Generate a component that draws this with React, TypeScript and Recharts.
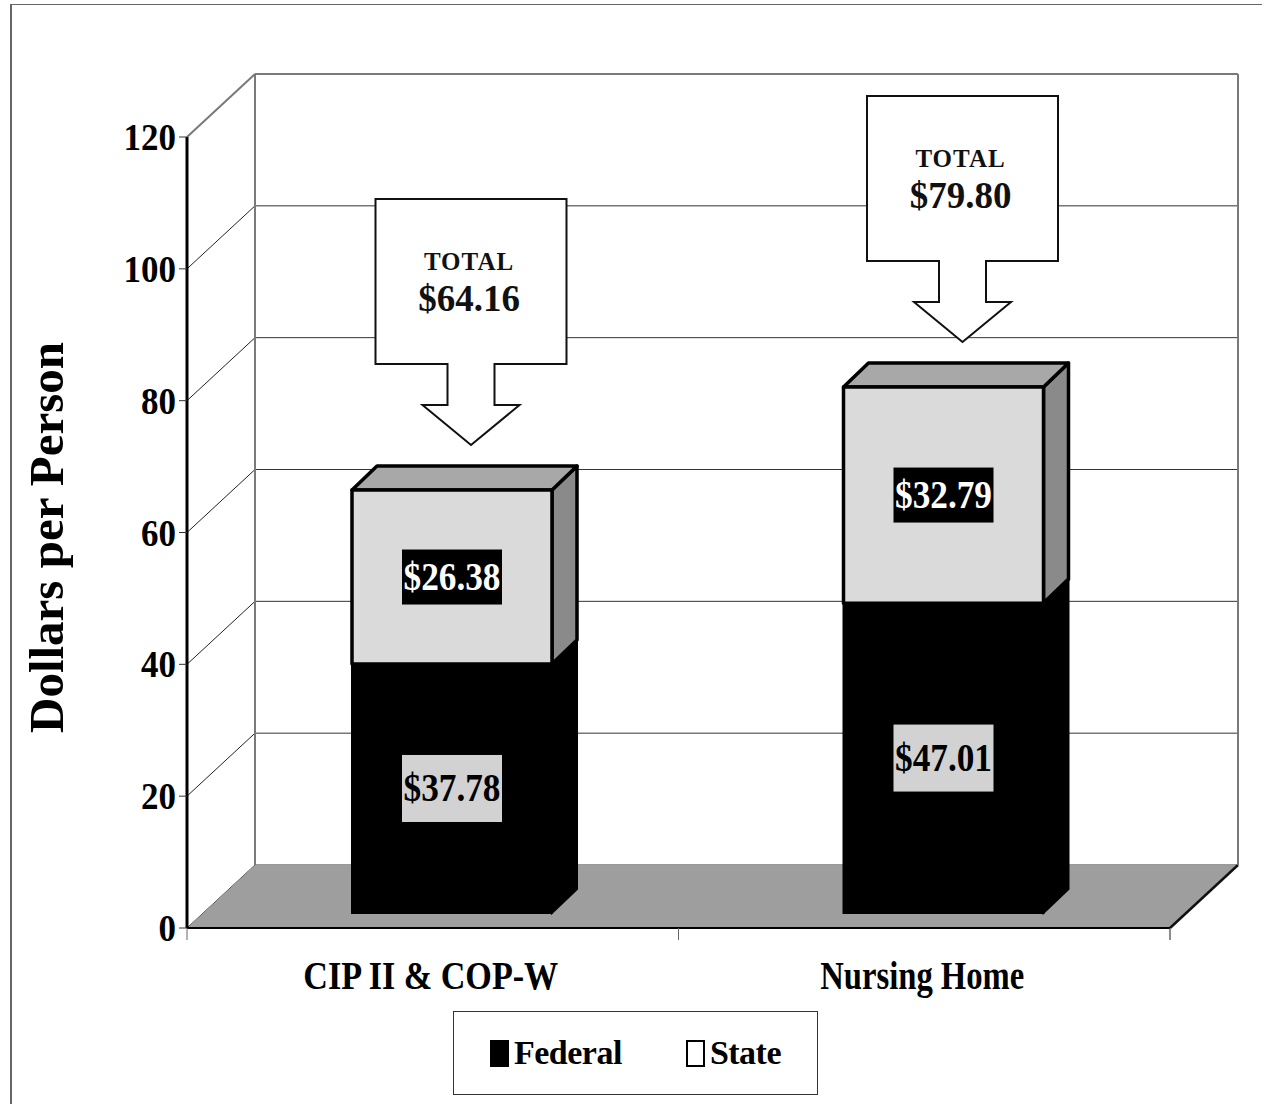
import React from 'react';
import {
  BarChart, Bar, XAxis, YAxis, CartesianGrid, ReferenceArea, LabelList, Legend,
} from 'recharts';

// values
const categories = ['CIP II & COP-W', 'Nursing Home'];
const federal = [37.78, 47.01];
const stateShare = [26.38, 32.79];
const totals = [64.16, 79.8];
const yTicks = [0, 20, 40, 60, 80, 100, 120];
const seriesNames = ['Federal', 'State'];
const yTitle = 'Dollars per Person';

const data = categories.map((name, i) => ({
  name,
  federal: federal[i],
  state: stateShare[i],
  total: totals[i],
}));

// layout
const W = 1264;
const H = 1105;
const PLOT_LEFT = 187;
const PLOT_TOP = 137;
const PLOT_RIGHT = 1170;
const PLOT_BOTTOM = 928;
const YAXIS_W = 170;
const XAXIS_H = 30;
const HALF_BAND = (PLOT_RIGHT - PLOT_LEFT) / categories.length / 2;

// fake 3d
const WALL_DX = 68;
const WALL_DY = -63;
const BAR_SHIFT_X = 19;
const BAR_SHIFT_Y = -15;
const BAR_DX = 25;
const BAR_DY = -24;

const FONT = "'Liberation Serif', 'Times New Roman', serif";
const CAT_TEXT_W = [255, 204];

const fmt = (v: number) => `$${Number(v).toFixed(2)}`;

function box(p: any) {
  const vb = p.viewBox && p.viewBox.width != null ? p.viewBox : p;
  return { x: Number(vb.x), y: Number(vb.y), width: Number(vb.width), height: Number(vb.height) };
}

function RoomShape(props: any) {
  const { x, y, width, height } = props;
  const bx = x + WALL_DX;
  const by = y + WALL_DY;
  const fy = y + height;
  return (
    <g>
      <polygon
        points={`${x},${fy} ${x + width},${fy} ${x + width + WALL_DX},${fy + WALL_DY} ${bx},${fy + WALL_DY}`}
        fill="#9e9e9e"
      />
      <line x1={x + width} y1={fy} x2={x + width + WALL_DX} y2={fy + WALL_DY} stroke="#111" strokeWidth={2.5} />
      <line x1={bx} y1={by} x2={bx} y2={fy + WALL_DY} stroke="#7a7a7a" strokeWidth={2} />
      <line x1={x + width + WALL_DX} y1={by} x2={x + width + WALL_DX} y2={fy + WALL_DY} stroke="#7a7a7a" strokeWidth={2} />
      <line x1={bx} y1={by} x2={x + width + WALL_DX} y2={by} stroke="#7a7a7a" strokeWidth={2} />
      <line x1={x} y1={y} x2={bx} y2={by} stroke="#7a7a7a" strokeWidth={2} />
      <line x1={x + width} y1={fy} x2={x + width} y2={fy + 12} stroke="#666" strokeWidth={1} />
    </g>
  );
}

function gridLine(props: any) {
  const { x1, y1, x2, index } = props;
  return (
    <g key={`grid-${index}-${y1}`}>
      <line x1={x1} y1={y1} x2={x1 + WALL_DX} y2={y1 + WALL_DY} stroke="#222" strokeWidth={1} />
      <line x1={x1 + WALL_DX} y1={y1 + WALL_DY} x2={x2 + WALL_DX} y2={y1 + WALL_DY} stroke="#333" strokeWidth={1} />
    </g>
  );
}

function FederalShape(props: any) {
  const { x, y, width, height } = props;
  const fx = x + BAR_SHIFT_X;
  const fy = y + BAR_SHIFT_Y;
  const r = fx + width;
  return (
    <g>
      <polygon
        points={`${r},${fy} ${r + BAR_DX},${fy + BAR_DY} ${r + BAR_DX},${fy + height + BAR_DY} ${r},${fy + height}`}
        fill="#000" stroke="#000" strokeWidth={2}
      />
      <rect x={fx} y={fy} width={width} height={height} fill="#000" stroke="#000" strokeWidth={2} />
    </g>
  );
}

function StateShape(props: any) {
  const { x, y, width, height } = props;
  const fx = x + BAR_SHIFT_X;
  const fy = y + BAR_SHIFT_Y;
  const r = fx + width;
  return (
    <g stroke="#000" strokeWidth={3.5} strokeLinejoin="round">
      <polygon
        points={`${r},${fy} ${r + BAR_DX},${fy + BAR_DY} ${r + BAR_DX},${fy + height + BAR_DY} ${r},${fy + height}`}
        fill="#8a8a8a"
      />
      <polygon
        points={`${fx},${fy} ${fx + BAR_DX},${fy + BAR_DY} ${r + BAR_DX},${fy + BAR_DY} ${r},${fy}`}
        fill="#a8a8a8"
      />
      <rect x={fx} y={fy} width={width} height={height} fill="#dadada" />
    </g>
  );
}

function valueLabel(p: any, dark: boolean, boxH: number) {
  const { x, y, width, height } = box(p);
  const cx = x + width / 2 + BAR_SHIFT_X;
  const cy = y + height / 2 + BAR_SHIFT_Y;
  return (
    <g>
      <rect x={cx - 50} y={cy - boxH / 2} width={100} height={boxH} fill={dark ? '#000' : '#d2d2d2'} />
      <text
        x={cx} y={cy + 13} textAnchor="middle" fill={dark ? '#fff' : '#000'}
        fontFamily={FONT} fontWeight="bold" fontSize={40}
        textLength={97} lengthAdjust="spacingAndGlyphs"
      >
        {fmt(p.value)}
      </text>
    </g>
  );
}

const federalLabel = (p: any) => valueLabel(p, false, 67);
const stateLabel = (p: any) => valueLabel(p, true, 55);

function totalCallout(p: any) {
  const { x, y, width } = box(p);
  const cx = x + width / 2 + BAR_SHIFT_X + 19;
  const tipY = y + BAR_SHIFT_Y - 45;
  const headTop = tipY - 40;
  const boxBottom = headTop - 41;
  const top = boxBottom - 165;
  const left = cx - 95.5;
  const right = cx + 95.5;
  const d = `M${left},${top} H${right} V${boxBottom} H${cx + 23.5} V${headTop} H${cx + 48.5} L${cx},${tipY} L${cx - 48.5},${headTop} H${cx - 23.5} V${boxBottom} H${left} Z`;
  return (
    <g>
      <path d={d} fill="#fff" stroke="#111" strokeWidth={2} />
      <text x={cx - 2} y={top + 71} textAnchor="middle" fontFamily={FONT} fontWeight="bold" fontSize={25} letterSpacing={1} fill="#111">
        TOTAL
      </text>
      <text x={cx - 2} y={top + 112} textAnchor="middle" fontFamily={FONT} fontWeight="bold" fontSize={37} fill="#111">
        {fmt(p.value)}
      </text>
    </g>
  );
}

function YTick(p: any) {
  const label = String(p.payload.value);
  return (
    <text
      x={p.x} y={p.y + 13} textAnchor="end" fill="#000"
      fontFamily={FONT} fontWeight="bold" fontSize={38}
      textLength={label.length * 17.5} lengthAdjust="spacingAndGlyphs"
    >
      {label}
    </text>
  );
}

function XTick(p: any) {
  const idx = p.index ?? 0;
  return (
    <g>
      {idx === 0 && <line x1={p.x - HALF_BAND} y1={p.y} x2={p.x - HALF_BAND} y2={p.y + 12} stroke="#666" />}
      <line x1={p.x + HALF_BAND} y1={p.y} x2={p.x + HALF_BAND} y2={p.y + 12} stroke="#666" />
      <text
        x={p.x - 2} y={p.y + 61} textAnchor="middle" fill="#000"
        fontFamily={FONT} fontWeight="bold" fontSize={40}
        textLength={CAT_TEXT_W[idx]} lengthAdjust="spacingAndGlyphs"
      >
        {p.payload.value}
      </text>
    </g>
  );
}

function YTitle(p: any) {
  const vb = p.viewBox;
  const cx = vb.x + 46;
  const cy = vb.y + vb.height / 2 + 5;
  return (
    <text
      x={cx} y={cy} transform={`rotate(-90, ${cx}, ${cy})`} textAnchor="middle"
      fontFamily={FONT} fontWeight="bold" fontSize={48} fill="#000"
      textLength={391} lengthAdjust="spacingAndGlyphs"
    >
      {yTitle}
    </text>
  );
}

function LegendBox() {
  const item = (label: string, fill: string) => (
    <div style={{ display: 'flex', alignItems: 'center' }}>
      <div style={{ width: 19, height: 27, background: fill, border: '2px solid #000', boxSizing: 'border-box', marginRight: 5 }} />
      <span>{label}</span>
    </div>
  );
  return (
    <div
      style={{
        boxSizing: 'border-box', width: 365, height: 84, border: '1.5px solid #333', background: '#fff',
        display: 'flex', alignItems: 'center', justifyContent: 'center', gap: 64,
        fontFamily: FONT, fontWeight: 'bold', fontSize: 34, color: '#000', letterSpacing: -0.5,
      }}
    >
      {item(seriesNames[0], '#000')}
      {item(seriesNames[1], '#fff')}
    </div>
  );
}

export default function App() {
  return (
    <div style={{ position: 'absolute', left: 0, top: 0, width: W, height: H, background: '#fff' }}>
      <div
        style={{
          position: 'absolute', left: 10, top: 4, width: W - 12, height: H - 5,
          borderLeft: '2px solid #666', borderTop: '1.5px solid #666', boxSizing: 'border-box',
        }}
      />
      <div style={{ position: 'absolute', left: 0, top: 0 }}>
        <BarChart
          width={W}
          height={H}
          data={data}
          barSize={200}
          margin={{ top: PLOT_TOP, left: PLOT_LEFT - YAXIS_W, right: W - PLOT_RIGHT, bottom: H - PLOT_BOTTOM - XAXIS_H }}
        >
          <CartesianGrid vertical={false} horizontal={gridLine} />
          <ReferenceArea y1={0} y2={120} shape={RoomShape} ifOverflow="visible" />
          <XAxis
            dataKey="name" type="category" height={XAXIS_H} interval={0}
            tickLine={false} tickSize={0} tickMargin={0}
            axisLine={{ stroke: '#000', strokeWidth: 2 }} tick={XTick}
          />
          <YAxis
            type="number" domain={[0, 120]} ticks={yTicks} width={YAXIS_W} interval={0}
            tickSize={8} tickMargin={3} tickLine={{ stroke: '#333' }}
            axisLine={{ stroke: '#000', strokeWidth: 3 }} tick={YTick}
            label={{ content: YTitle }}
          />
          <Legend
            layout="horizontal" verticalAlign="middle" align="center"
            wrapperStyle={{ position: 'absolute', left: 453, top: 1011, width: 365, height: 84 }}
            content={LegendBox}
          />
          <Bar dataKey="federal" name={seriesNames[0]} stackId="a" shape={FederalShape} isAnimationActive={false}>
            <LabelList dataKey="federal" content={federalLabel} />
          </Bar>
          <Bar dataKey="state" name={seriesNames[1]} stackId="a" shape={StateShape} isAnimationActive={false}>
            <LabelList dataKey="state" content={stateLabel} />
            <LabelList dataKey="total" content={totalCallout} />
          </Bar>
        </BarChart>
      </div>
    </div>
  );
}
